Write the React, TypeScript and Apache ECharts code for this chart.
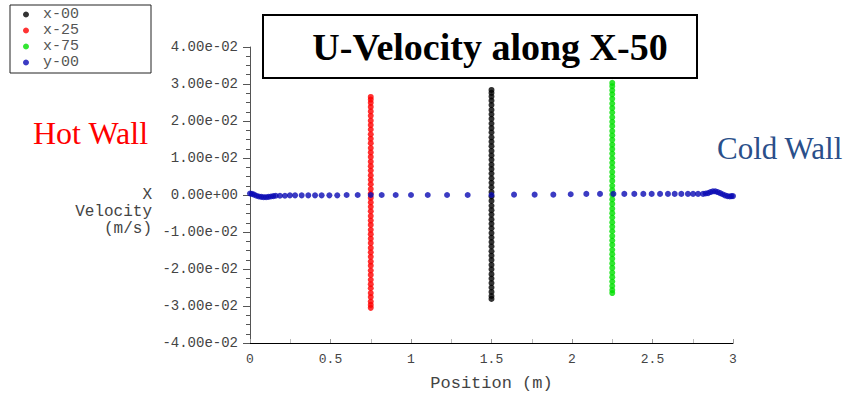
import React, { useEffect, useRef } from "react";
import * as echarts from "echarts";

const seriesNames = ["x-00", "x-25", "x-75", "y-00"];
const seriesColors = ["#000000", "#ff0000", "#00e000", "#0a0ab4"];

// vertical profiles (plotted at their constant position)
const posX00 = 1.5;
const velX00 = [-0.0281, -0.0273, -0.0262, -0.025, -0.0238, -0.0226, -0.0214, -0.0201, -0.0189, -0.0176, -0.0164, -0.0152, -0.0139, -0.0127, -0.0115, -0.0103, -0.009, -0.0078, -0.0066, -0.0053, -0.0041, -0.0029, -0.0016, -0.0004, 0.0008, 0.0021, 0.0033, 0.0045, 0.0058, 0.007, 0.0082, 0.0095, 0.0107, 0.0119, 0.0132, 0.0144, 0.0156, 0.0169, 0.0181, 0.0193, 0.0206, 0.0218, 0.023, 0.0243, 0.0255, 0.0266, 0.0276, 0.0284];

const posX25 = 0.75;
const velX25 = [-0.0305, -0.0297, -0.0288, -0.0276, -0.0265, -0.0252, -0.0241, -0.0229, -0.0216, -0.0204, -0.0191, -0.018, -0.0167, -0.0155, -0.0143, -0.013, -0.0118, -0.0106, -0.0094, -0.0081, -0.0069, -0.0057, -0.0044, -0.0032, -0.002, -0.0008, 0.0004, 0.0016, 0.0029, 0.0041, 0.0053, 0.0066, 0.0078, 0.009, 0.0103, 0.0115, 0.0127, 0.014, 0.0152, 0.0164, 0.0177, 0.0189, 0.0201, 0.0214, 0.0226, 0.0238, 0.0249, 0.0258, 0.0265];

const posX75 = 2.25;
const velX75 = [-0.0265, -0.0257, -0.0246, -0.0234, -0.0222, -0.021, -0.0197, -0.0185, -0.0172, -0.016, -0.0148, -0.0135, -0.0123, -0.0111, -0.0098, -0.0086, -0.0074, -0.0061, -0.0049, -0.0037, -0.0024, -0.0012, 0.0001, 0.0013, 0.0025, 0.0038, 0.005, 0.0062, 0.0075, 0.0087, 0.0099, 0.0112, 0.0124, 0.0136, 0.0149, 0.0161, 0.0173, 0.0186, 0.0198, 0.021, 0.0223, 0.0235, 0.0247, 0.026, 0.0272, 0.0283, 0.0294, 0.0303];

// horizontal profile y-00
const posY00 = [0, 0.012, 0.025, 0.04, 0.055, 0.07, 0.085, 0.1, 0.115, 0.13, 0.145, 0.16, 0.186, 0.217, 0.248, 0.28, 0.321, 0.362, 0.404, 0.445, 0.493, 0.542, 0.6, 0.669, 0.75, 0.818, 0.905, 1.0, 1.104, 1.224, 1.352, 1.5, 1.64, 1.768, 1.884, 1.992, 2.089, 2.174, 2.257, 2.325, 2.387, 2.443, 2.495, 2.547, 2.596, 2.638, 2.679, 2.72, 2.752, 2.783, 2.814, 2.83, 2.845, 2.86, 2.875, 2.89, 2.905, 2.92, 2.935, 2.95, 2.965, 2.98, 2.99, 3.0];
const velY00 = [0.0004, 0.0003, 0.0001, -0.0002, -0.0004, -0.0005, -0.0006, -0.0006, -0.0005, -0.0004, -0.0003, -0.0002, -0.0002, -0.0002, -0.0001, -0.0001, -0.0001, -0.0001, -0.0001, -0.0001, -0.0001, -0.0001, 0.0, 0.0, 0.0, 0.0, 0.0, 0.0, 0.0, 0.0, 0.0, 0.0, 0.0001, 0.0001, 0.0001, 0.0002, 0.0003, 0.0003, 0.0003, 0.0003, 0.0003, 0.0003, 0.0003, 0.0003, 0.0003, 0.0003, 0.0003, 0.0003, 0.0003, 0.0003, 0.0003, 0.0004, 0.0005, 0.0008, 0.001, 0.001, 0.0008, 0.0005, 0.0002, -0.0001, -0.0003, -0.0004, -0.0003, -0.0003];

const xTicks = { min: 0, max: 3, interval: 0.5 };
const yTicks = { min: -0.04, max: 0.04, interval: 0.01 };
const yNameLines = ["X", "Velocity", "(m/s)"];

function fmtExp(v: number): string {
  if (Math.abs(v) < 1e-12) return "0.00e+00";
  const [m, e] = v.toExponential(2).split("e");
  const n = parseInt(e, 10);
  return m + "e" + (n < 0 ? "-" : "+") + String(Math.abs(n)).padStart(2, "0");
}

const MONO = "Liberation Mono";
const SERIF = "Liberation Serif";

export default function App() {
  const ref = useRef<HTMLDivElement>(null);
  useEffect(() => {
    if (!ref.current) return;
    const chart = echarts.init(ref.current, null, { renderer: "svg" });
    const vertical = (name: string, pos: number, vals: number[], color: string) => ({
      name,
      type: "scatter",
      symbol: "circle",
      symbolSize: 6,
      itemStyle: { color },
      data: vals.map((v) => [pos, v]),
    });
    chart.setOption({
      animation: false,
      backgroundColor: "#ffffff",
      grid: { left: 250, right: 115, top: 47, bottom: 57 },
      legend: {
        orient: "vertical",
        left: 10,
        top: 5,
        itemWidth: 6,
        itemHeight: 6,
        itemGap: 1,
        icon: "circle",
        padding: [2, 72, 3, 13],
        borderColor: "#222",
        borderWidth: 1,
        textStyle: { fontFamily: MONO, fontSize: 15, color: "#555", lineHeight: 12, padding: [0, 0, 0, 9] },
        data: seriesNames,
      },
      xAxis: {
        type: "value",
        min: xTicks.min,
        max: xTicks.max,
        interval: xTicks.interval,
        name: "Position (m)",
        nameLocation: "middle",
        nameGap: 32,
        nameTextStyle: { fontFamily: MONO, fontSize: 17, color: "#444" },
        axisLine: { onZero: false, lineStyle: { color: "#000", width: 1 } },
        axisTick: { show: true, inside: true, length: 4, lineStyle: { color: "#999" } },
        minorTick: { show: true, splitNumber: 2, length: 4, lineStyle: { color: "#bbb" } },
        axisLabel: { fontFamily: MONO, fontSize: 13, color: "#444", margin: 10, formatter: (v: number) => String(v) },
        splitLine: { show: false },
      },
      yAxis: {
        type: "value",
        min: yTicks.min,
        max: yTicks.max,
        interval: yTicks.interval,
        axisLine: { show: true, onZero: false, lineStyle: { color: "#555", width: 1 } },
        axisTick: { show: true, length: 7, lineStyle: { color: "#555" } },
        minorTick: { show: true, splitNumber: 4, length: 4, lineStyle: { color: "#555" } },
        axisLabel: { fontFamily: MONO, fontSize: 14, color: "#444", margin: 12, formatter: fmtExp },
        splitLine: { show: false },
      },
      graphic: [
        {
          type: "rect",
          shape: { x: 263, y: 15, width: 434, height: 63 },
          style: { fill: "#fff", stroke: "#000", lineWidth: 2 },
          z: 10,
        },
        {
          type: "text",
          x: 490,
          y: 47,
          style: {
            text: "U-Velocity along X-50",
            font: `bold 38px '${SERIF}'`,
            fill: "#000",
            align: "center",
            verticalAlign: "middle",
          },
          z: 11,
        },
        {
          type: "text",
          x: 33,
          y: 133,
          style: { text: "Hot Wall", font: `32px '${SERIF}'`, fill: "#ff0000", align: "left", verticalAlign: "middle" },
        },
        {
          type: "text",
          x: 717,
          y: 148,
          style: { text: "Cold Wall", font: `31px '${SERIF}'`, fill: "#2a4f8a", align: "left", verticalAlign: "middle" },
        },
        ...yNameLines.map((t, i) => ({
          type: "text",
          x: 152,
          y: 195 + i * 17,
          style: {
            text: t,
            font: `16px '${MONO}'`,
            fill: "#444",
            align: "right",
            verticalAlign: "middle",
          },
        })),
      ],
      series: [
        vertical(seriesNames[0], posX00, velX00, seriesColors[0]),
        vertical(seriesNames[1], posX25, velX25, seriesColors[1]),
        vertical(seriesNames[2], posX75, velX75, seriesColors[2]),
        {
          name: seriesNames[3],
          type: "scatter",
          symbol: "circle",
          symbolSize: 6,
          itemStyle: { color: seriesColors[3] },
          data: posY00.map((p, i) => [p, velY00[i]]),
          z: 5,
        },
      ],
    });
    return () => chart.dispose();
  }, []);
  return <div ref={ref} style={{ width: 848, height: 400, position: "absolute", left: 0, top: 0 }} />;
}
